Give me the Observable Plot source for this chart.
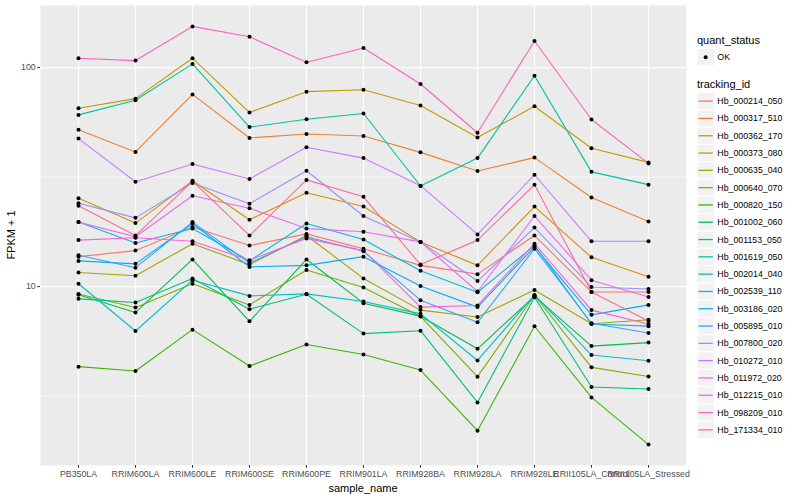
<!DOCTYPE html>
<html><head><meta charset="utf-8">
<script src="https://cdn.jsdelivr.net/npm/d3@7"></script>
<script src="https://cdn.jsdelivr.net/npm/@observablehq/plot@0.6"></script>
<style>
body{margin:0;background:#fff;font-family:"Liberation Sans",Arial,Helvetica,sans-serif;}
#wrap{position:relative;width:800px;height:500px;overflow:hidden;}
#overlay{position:absolute;left:0;top:0;pointer-events:none;}
</style></head>
<body><div id="wrap"><div id="chart"></div></div>
<script>
const samples = ["PB350LA","RRIM600LA","RRIM600LE","RRIM600SE","RRIM600PE","RRIM901LA","RRIM928BA","RRIM928LA","RRIM928LE","RRII105LA_Control","RRII105LA_Stressed"];
const ids = ["Hb_000214_050","Hb_000317_510","Hb_000362_170","Hb_000373_080","Hb_000635_040","Hb_000640_070","Hb_000820_150","Hb_001002_060","Hb_001153_050","Hb_001619_050","Hb_002014_040","Hb_002539_110","Hb_003186_020","Hb_005895_010","Hb_007800_020","Hb_010272_010","Hb_011972_020","Hb_012215_010","Hb_098209_010","Hb_171334_010"];
const colors = ["#F8766D","#EA8331","#D89000","#C09B00","#A3A500","#7CAE00","#39B600","#00BB4E","#00BF7D","#00C1A3","#00BFC4","#00BAE0","#00B0F6","#35A2FF","#9590FF","#C77CFF","#E76BF3","#FA62DB","#FF62BC","#FF6C91"];
const quantStatus = ["OK"];
const yTicks = [10, 100];

// FPKM + 1 per sample, one array per tracking_id
const hb_000214_050 = [13.7, 14.6, 18.7, 15.4, 17.4, 14.9, 12.5, 11.4, 17.1, 9.45, 9.45];
const hb_000317_510 = [52.0, 41.2, 75.4, 47.7, 49.7, 48.7, 41.0, 33.7, 38.8, 25.5, 19.8];
const hb_000362_170 = [25.3, 19.5, 30.4, 20.2, 26.8, 23.2, 16.0, 12.5, 23.2, 13.6, 11.1];
const hb_000373_080 = [65.2, 72.1, 110.3, 62.3, 77.6, 79.2, 67.1, 47.9, 66.6, 42.8, 36.9];
const hb_000635_040 = [11.6, 11.2, 15.7, 12.6, 17.1, 10.9, 7.81, 7.26, 9.65, 6.77, 7.06];
const hb_000640_070 = [9.26, 8.03, 10.3, 8.25, 11.9, 9.9, 7.31, 3.88, 9.13, 4.28, 3.89];
const hb_000820_150 = [4.31, 4.12, 6.36, 4.34, 5.44, 4.9, 4.16, 2.2, 6.59, 3.12, 1.90];
const hb_001002_060 = [9.18, 7.62, 13.3, 6.94, 13.3, 8.4, 7.33, 5.2, 9.04, 5.35, 5.55];
const hb_001153_050 = [8.79, 8.46, 10.9, 7.89, 9.23, 6.1, 6.29, 2.96, 8.94, 3.48, 3.41];
const hb_001619_050 = [60.8, 70.9, 103.9, 53.5, 58.1, 61.7, 28.8, 38.6, 91.7, 33.4, 29.2];
const hb_002014_040 = [10.3, 6.27, 10.7, 9.07, 9.26, 8.55, 7.51, 4.6, 9.16, 4.87, 4.59];
const hb_002539_110 = [19.7, 15.8, 18.4, 13.1, 19.4, 16.4, 11.8, 9.42, 15.4, 6.75, 6.6];
const hb_003186_020 = [13.1, 12.7, 19.4, 12.3, 12.5, 13.7, 10.06, 8.06, 15.2, 7.43, 8.25];
const hb_005895_010 = [13.9, 12.2, 19.7, 12.8, 16.9, 14.5, 8.67, 6.87, 14.9, 6.8, 6.14];
const hb_007800_020 = [24.0, 20.6, 29.7, 23.9, 33.8, 21.0, 16.0, 10.6, 18.6, 9.96, 9.75];
const hb_010272_010 = [47.4, 30.1, 36.3, 31.0, 43.3, 38.6, 28.9, 17.3, 32.4, 16.1, 16.1];
const hb_011972_020 = [19.7, 16.9, 26.0, 22.8, 18.4, 17.8, 16.0, 9.5, 21.0, 10.7, 8.97];
const hb_012215_010 = [16.3, 16.7, 16.1, 13.2, 16.6, 14.6, 8.06, 8.2, 15.7, 7.81, 6.75];
const hb_098209_010 = [110.3, 107.6, 154.1, 138.2, 105.8, 122.8, 84.1, 50.4, 132.2, 57.9, 36.5];
const hb_171334_010 = [23.4, 17.1, 30.3, 17.1, 30.7, 25.7, 12.6, 16.3, 29.2, 9.45, 6.97];

const seriesList = [hb_000214_050, hb_000317_510, hb_000362_170, hb_000373_080, hb_000635_040, hb_000640_070, hb_000820_150, hb_001002_060, hb_001153_050, hb_001619_050, hb_002014_040, hb_002539_110, hb_003186_020, hb_005895_010, hb_007800_020, hb_010272_010, hb_011972_020, hb_012215_010, hb_098209_010, hb_171334_010];

const rows = [];
ids.forEach((id, i) => seriesList[i].forEach((v, j) => rows.push({id, sample: samples[j], value: v, status: quantStatus[0]})));

// ggplot-like expansion of log range (5%)
const lmin = Math.log10(d3.min(rows, d => d.value)), lmax = Math.log10(d3.max(rows, d => d.value));
const ex = (lmax - lmin) * 0.05;
const yDomain = [Math.pow(10, lmin - ex), Math.pow(10, lmax + ex)];
const minor = [Math.pow(10, 0.5), Math.pow(10, 1.5)];

const W = 800, H = 500, mL = 40, mR = 114, mT = 5, mB = 35;
const font = '"Liberation Sans",Arial,Helvetica,sans-serif';

const chart = Plot.plot({
  width: W, height: H,
  marginLeft: mL, marginRight: mR, marginTop: mT, marginBottom: mB,
  style: {fontFamily: font, fontSize: "8.8px", background: "#fff", color: "#333333"},
  x: {type: "point", domain: samples, padding: 0.6},
  y: {type: "log", domain: yDomain},
  color: {domain: ids, range: colors},
  marks: [
    Plot.frame({fill: "#EBEBEB", stroke: null}),
    Plot.gridY(minor, {stroke: "#fff", strokeOpacity: 1, strokeWidth: 0.6}),
    Plot.gridY(yTicks, {stroke: "#fff", strokeOpacity: 1, strokeWidth: 1.2}),
    Plot.gridX(samples, {stroke: "#fff", strokeOpacity: 1, strokeWidth: 1.2}),
    Plot.line(rows, {x: "sample", y: "value", z: "id", stroke: "id", strokeWidth: 1.1}),
    Plot.dot(rows, {x: "sample", y: "value", r: 2, fill: "#000", stroke: null}),
    Plot.axisX({tickSize: 2.75, tickPadding: 2, label: null, fill: "#4D4D4D", stroke: "#333333"}),
    Plot.axisY({ticks: yTicks, tickFormat: d => String(d), tickSize: 2.75, tickPadding: 2, label: null, fill: "#4D4D4D", stroke: "#333333"})
  ]
});
document.getElementById("chart").appendChild(chart);

// overlay: axis titles and legend
const svg = d3.select("#wrap").append("svg").attr("id", "overlay")
  .attr("width", W).attr("height", H).style("font-family", font);
svg.append("text").attr("x", (mL + W - mR) / 2).attr("y", 492).attr("text-anchor", "middle")
  .attr("font-size", 11).attr("fill", "#000").text("sample_name");
svg.append("text").attr("transform", `translate(15,${(mT + H - mB) / 2}) rotate(-90)`).attr("text-anchor", "middle")
  .attr("font-size", 11).attr("fill", "#000").text("FPKM + 1");

const lx = 697, keyW = 17.3, keyH = 17.3;
svg.append("text").attr("x", lx).attr("y", 44).attr("font-size", 11).attr("fill", "#000").text("quant_status");
svg.append("rect").attr("x", lx).attr("y", 48.5).attr("width", keyW).attr("height", keyH)
  .attr("fill", "#F2F2F2").attr("stroke", "#fff");
svg.append("circle").attr("cx", lx + keyW / 2).attr("cy", 48.5 + keyH / 2).attr("r", 2).attr("fill", "#000");
svg.append("text").attr("x", lx + keyW + 3).attr("y", 48.5 + keyH / 2 + 3).attr("font-size", 8.8).attr("fill", "#000").text(quantStatus[0]);

svg.append("text").attr("x", lx).attr("y", 88).attr("font-size", 11).attr("fill", "#000").text("tracking_id");
const top0 = 92.5;
ids.forEach((id, i) => {
  const y = top0 + i * keyH;
  svg.append("rect").attr("x", lx).attr("y", y).attr("width", keyW).attr("height", keyH)
    .attr("fill", "#F2F2F2").attr("stroke", "#fff");
  svg.append("line").attr("x1", lx + 1.5).attr("x2", lx + keyW - 1.5).attr("y1", y + keyH / 2).attr("y2", y + keyH / 2)
    .attr("stroke", colors[i]).attr("stroke-width", 1.3);
  svg.append("text").attr("x", lx + keyW + 3).attr("y", y + keyH / 2 + 3).attr("font-size", 8.8).attr("fill", "#000").text(id);
});
</script>
</body></html>
